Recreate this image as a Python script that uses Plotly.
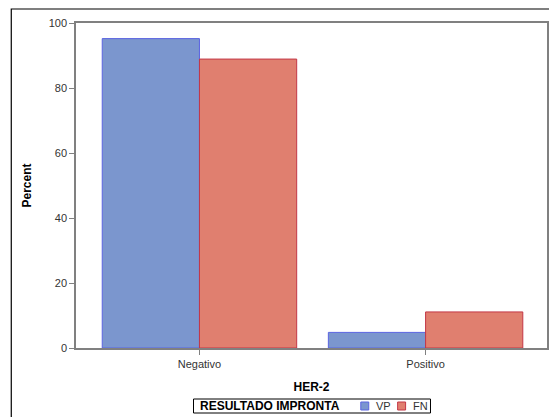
import plotly.graph_objects as go

# HER-2 status by imprint result (percent within each group)
categories = ["Negativo", "Positivo"]
vp_values = [95.2, 4.8]
fn_values = [88.9, 11.1]
series_names = ["VP", "FN"]
legend_title = "RESULTADO IMPRONTA"
y_ticks = [0, 20, 40, 60, 80, 100]

blue_fill = "rgb(123,150,206)"
blue_line = "rgb(90,100,225)"
red_fill = "rgb(224,127,111)"
red_line = "rgb(195,55,70)"
font_family = "Arial, Liberation Sans, sans-serif"
tick_font = dict(family=font_family, size=11, color="#333333")

fig = go.Figure()
fig.add_trace(go.Bar(x=categories, y=vp_values, name=series_names[0],
                     marker=dict(color=blue_fill, line=dict(color=blue_line, width=1))))
fig.add_trace(go.Bar(x=categories, y=fn_values, name=series_names[1],
                     marker=dict(color=red_fill, line=dict(color=red_line, width=1))))

W, H = 549, 417
ml, mr, mt, mb = 76, 0, 23, 69
pw, ph = W - ml - mr, H - mt - mb

def px_x(px):
    return (px - ml) / pw

def px_y(py):
    return (H - mb - py) / ph

# outer frame of the graph
shapes = [dict(type="rect", xref="paper", yref="paper",
               x0=px_x(11), x1=px_x(560), y0=px_y(430), y1=px_y(9),
               line=dict(color="black", width=1.2), fillcolor="rgba(0,0,0,0)", layer="below")]
annotations = []

# legend drawn below the axis: boxed title plus colour swatches
leg_top, leg_bot = 399, 413
leg_mid = (leg_top + leg_bot) / 2
shapes.append(dict(type="rect", xref="paper", yref="paper",
                   x0=px_x(194), x1=px_x(432), y0=px_y(leg_bot), y1=px_y(leg_top),
                   line=dict(color="black", width=1), fillcolor="white"))
annotations.append(dict(xref="paper", yref="paper", x=px_x(199), y=px_y(leg_mid),
                        xanchor="left", yanchor="middle", showarrow=False,
                        text="<b>%s</b>" % legend_title,
                        font=dict(family=font_family, size=12, color="black")))
for name, fill, line, sx, tx in [(series_names[0], blue_fill, blue_line, 362, 375),
                                 (series_names[1], red_fill, red_line, 399, 412)]:
    shapes.append(dict(type="rect", xref="paper", yref="paper",
                       x0=px_x(sx), x1=px_x(sx + 8), y0=px_y(leg_mid + 4), y1=px_y(leg_mid - 4),
                       line=dict(color=line, width=1), fillcolor=fill))
    annotations.append(dict(xref="paper", yref="paper", x=px_x(tx), y=px_y(leg_mid),
                            xanchor="left", yanchor="middle", showarrow=False, text=name,
                            font=dict(family=font_family, size=11, color="#333333")))

fig.update_layout(
    width=W, height=H,
    margin=dict(l=ml, r=mr, t=mt, b=mb, pad=0),
    paper_bgcolor="white", plot_bgcolor="white",
    font=dict(family=font_family, size=11, color="#333333"),
    showlegend=False,
    barmode="group", bargap=0.14, bargroupgap=0,
    xaxis=dict(
        type="category", range=[-0.546, 1.537],
        showline=True, linecolor="#808080", linewidth=1.5, mirror=True,
        ticks="outside", ticklen=5, tickcolor="#808080", tickfont=tick_font,
        showgrid=False, zeroline=False,
        title=dict(text="<b>HER-2</b>", font=dict(family=font_family, size=12, color="black"),
                   standoff=14),
    ),
    yaxis=dict(
        range=[0, 100], tickvals=y_ticks,
        showline=True, linecolor="#808080", linewidth=1.5, mirror=True,
        ticks="outside", ticklen=5, tickcolor="#808080", tickfont=tick_font,
        showgrid=False, zeroline=False,
        title=dict(text="<b>Percent</b>", font=dict(family=font_family, size=12, color="black"),
                   standoff=14),
    ),
    shapes=shapes,
    annotations=annotations,
)

fig.write_html("out.html")
